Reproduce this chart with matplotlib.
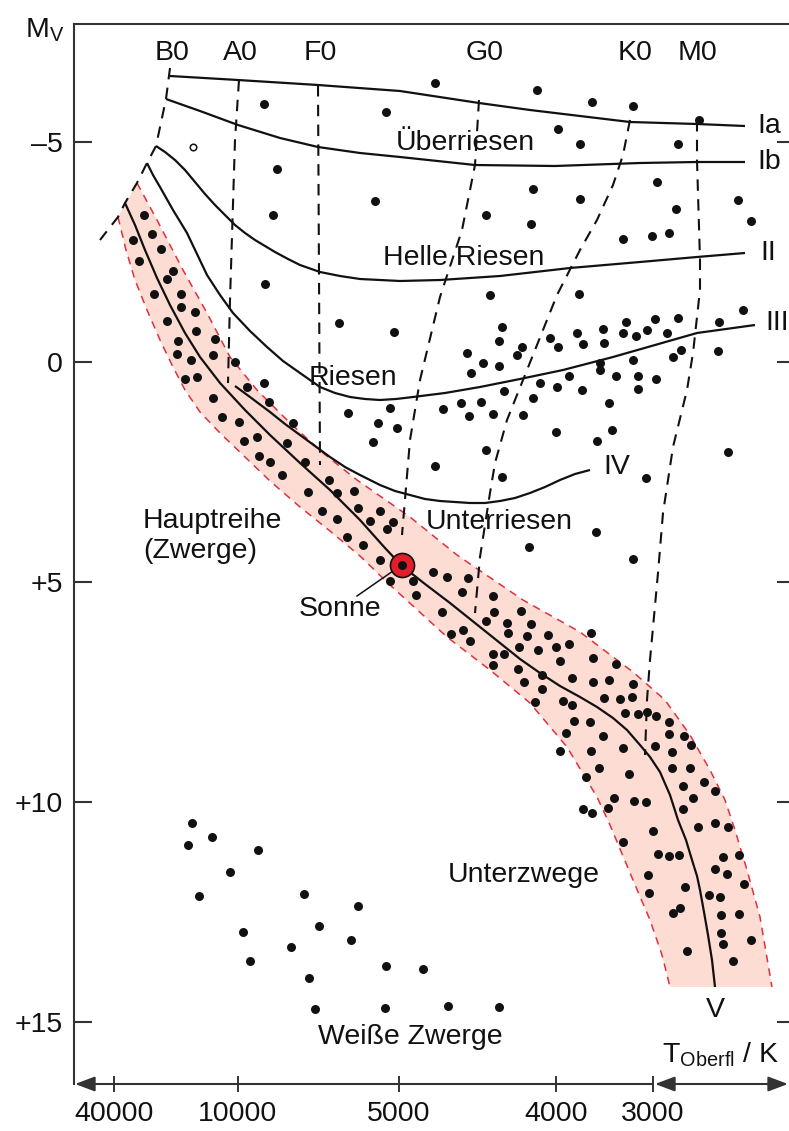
import numpy as np
import matplotlib
matplotlib.use('Agg')
import matplotlib.pyplot as plt

plt.rcParams['font.family'] = ['Liberation Sans', 'DejaVu Sans']
plt.rcParams['mathtext.fontset'] = 'custom'
plt.rcParams['mathtext.rm'] = 'Liberation Sans'
plt.rcParams['mathtext.it'] = 'Liberation Sans'

# x = position along the temperature / spectral axis (chart units),
# y = brightness read in chart rows, converted to M_V by mv()
def mv(rows):
    return (np.asarray(rows, dtype=float) - 362) / 44.0

mag_ticks = [-5, 0, 5, 10, 15]
mag_labels = ['–5', '0', '+5', '+10', '+15']
temp_pos = [114, 238, 399, 556, 653]
temp_labels = ['40000', '10000', '5000', '4000', '3000']
spec_pos = [172, 240, 320, 485, 635, 698]
spec_labels = ['B0', 'A0', 'F0', 'G0', 'K0', 'M0']

# giants / supergiants / subgiants
giant_x = [264, 386, 277, 375, 273, 265,
           435, 537, 592, 633, 699, 558, 580, 678, 533, 580, 657, 676, 738, 751,
           486, 531, 623, 652, 669, 490, 579,
           339, 394, 235, 247, 264, 269, 293, 348, 390, 378, 373, 397,
           502, 499, 467, 483, 499, 471, 522, 517, 550, 558, 577, 583, 603, 604,
           626, 623, 636, 647, 655, 667, 678, 719, 743, 600, 600, 633, 616, 638,
           656, 638, 673, 681, 718, 569, 540, 557, 582, 504, 533, 609, 443, 461,
           481, 469, 493, 523, 556, 612, 597, 486, 435, 502, 646, 728, 596, 529, 633]
giant_y = [104, 112, 169, 201, 215, 284,
           83, 90, 102, 106, 120, 129, 144, 144, 189, 199, 182, 209, 200, 221,
           215, 224, 239, 236, 233, 295, 294,
           323, 332, 362, 387, 383, 402, 423, 413, 408, 423, 442, 428,
           327, 341, 353, 363, 366, 373, 347, 355, 338, 347, 333, 344, 329, 343,
           322, 333, 336, 330, 319, 333, 318, 322, 310, 363, 370, 360, 376, 376,
           379, 389, 357, 350, 351, 376, 383, 387, 390, 391, 398, 403, 409, 403,
           402, 416, 414, 415, 432, 430, 441, 450, 466, 477, 478, 452, 532, 547, 559]

# main sequence stars
ms_x = [144, 152, 133, 161, 139, 173, 167, 154, 181, 181, 195, 167, 196, 215, 178,
        177, 213, 191, 185, 197, 213, 222, 239, 257, 244, 287, 259, 270, 305, 282,
        329, 354, 337, 308, 358, 380, 322, 337, 370, 393, 387, 347, 363, 380,
        390, 413, 433, 447, 468, 416, 462, 493, 442, 494, 521, 486, 507, 531, 451,
        463, 470, 508, 527, 548, 591, 493, 504, 519, 538, 556, 569, 493, 560, 593,
        616, 518, 542, 524, 542, 572, 593, 609, 633, 535, 563, 572, 604, 620, 632,
        625, 638, 647, 656, 669, 574, 590, 566, 603, 669, 684, 691, 560, 591, 623,
        655, 672, 599, 629, 672, 690, 586, 683, 704, 715, 693, 614, 634, 646, 608,
        583, 592, 683, 698, 715, 728, 653, 623, 658, 669, 679, 723, 739,
        648, 649, 685, 715, 727, 744, 709, 720, 673, 680, 721, 739, 721, 723, 751,
        687, 733]
ms_y = [215, 234, 240, 249, 261, 271, 279, 294, 294, 307, 312, 321, 331, 339, 341,
        354, 355, 360, 379, 377, 398, 417, 422, 437, 441, 443, 456, 462, 462, 475,
        480, 491, 493, 492, 508, 511, 511, 519, 521, 522, 529, 537, 545, 560,
        581, 581, 572, 577, 578, 595, 592, 596, 612, 612, 611, 621, 623, 624, 634,
        630, 641, 633, 636, 635, 633, 654, 654, 647, 650, 647, 644, 665, 661, 658,
        664, 669, 675, 682, 689, 678, 682, 680, 684, 702, 701, 705, 698, 699, 697,
        713, 714, 712, 716, 722, 721, 722, 733, 736, 734, 736, 745, 751, 751, 748,
        746, 752, 768, 774, 768, 768, 777, 786, 782, 791, 798, 798, 801, 802, 808,
        809, 813, 809, 827, 823, 827, 831, 842, 854, 856, 855, 857, 855,
        875, 893, 887, 869, 874, 884, 895, 897, 913, 908, 915, 914, 933, 944, 940,
        951, 961]

# white dwarfs
wd_x = [192, 188, 212, 258, 230, 199, 304, 358, 243, 319, 351, 291, 250, 386, 423,
        309, 315, 385, 448, 499]
wd_y = [823, 845, 837, 850, 872, 896, 894, 906, 932, 926, 940, 947, 961, 966, 969,
        978, 1009, 1008, 1006, 1007]

sun_x, sun_y = 402, 565
open_x, open_y = 193, 147

# luminosity classes
ia_x = [170, 238, 318, 400, 479, 530, 580, 630, 697, 745]
ia_y = [76, 80, 85, 91, 103, 110, 116, 122, 124, 126]
ib_x = [166, 200, 238, 280, 318, 360, 400, 475, 555, 640, 697, 745]
ib_y = [99, 111, 125, 138, 147, 153, 157, 165, 166, 163, 162, 162]
ii_x = [156, 165, 175, 185, 195, 205, 215, 225, 235, 245, 255, 265, 275, 288, 300,
        320, 340, 360, 380, 400, 440, 500, 570, 640, 697, 745]
ii_y = [146, 152, 160, 170, 182, 194, 205, 215, 225, 233, 240, 246, 252, 259, 265,
        272, 276, 279, 280, 281, 280, 276, 268, 262, 257, 253]
iii_x = [147, 153, 160, 173, 187, 197, 207, 220, 233, 250, 267, 283, 300, 320, 335,
         350, 365, 380, 396, 413, 445, 480, 520, 563, 613, 655, 697, 755]
iii_y = [163, 175, 187, 210, 233, 254, 275, 295, 313, 331, 347, 361, 373, 387, 393,
         397, 399, 400, 399, 397, 393, 387, 379, 370, 357, 345, 333, 325]
iv_x = [235, 250, 270, 285, 300, 315, 330, 345, 360, 380, 395, 410, 425, 440, 455,
        470, 485, 500, 515, 530, 545, 560, 575, 590]
iv_y = [386, 397, 412, 424, 435, 446, 457, 467, 475, 485, 491, 495, 499, 501, 502,
        503, 503, 501, 498, 493, 487, 480, 474, 470]
v_x = [125, 135, 145, 157, 170, 185, 200, 220, 245, 270, 300, 330, 360, 385, 402,
       425, 450, 475, 500, 520, 540, 560, 580, 597, 613, 627, 640, 650, 660, 670, 678,
       686, 692, 697, 700, 704, 708, 712, 715]
v_y = [203, 225, 250, 278, 305, 333, 357, 383, 410, 435, 463, 490, 520, 548, 566,
       584, 603, 623, 643, 659, 673, 686, 697, 707, 718, 730, 745, 757, 772, 795, 820,
       840, 860, 876, 890, 912, 935, 960, 987]

# main sequence band edges
band_up_x = [137, 157, 183, 207, 230, 257, 290, 323, 357, 390, 410, 457, 523, 580,
             633, 665, 690, 710, 725, 735, 747, 760, 772]
band_up_y = [183, 220, 270, 313, 357, 390, 423, 453, 480, 503, 517, 555, 600, 632,
             672, 700, 735, 770, 800, 830, 870, 917, 987]
band_lo_x = [118, 126, 135, 147, 160, 172, 185, 200, 220, 245, 270, 300, 330, 360,
             390, 447, 490, 530, 567, 597, 610, 633, 650, 662, 670]
band_lo_y = [217, 250, 280, 310, 340, 365, 390, 412, 433, 457, 481, 507, 531, 556,
             585, 637, 670, 703, 747, 797, 825, 880, 920, 955, 987]

# spectral type boundaries
b0_x = [170, 166, 156, 147, 137, 125, 118, 100]
b0_y = [68, 99, 146, 163, 183, 203, 217, 240]
a0_x = [239, 235, 230, 228]
a0_y = [80, 140, 300, 383]
f0_x = [318, 320]
f0_y = [85, 465]
g0_x = [479, 475, 462, 440, 420, 410, 402]
g0_y = [100, 165, 230, 297, 380, 440, 535]
k0_x = [630, 623, 613, 597, 580, 557, 547, 527, 507, 495, 490, 480, 475]
k0_y = [120, 155, 185, 220, 250, 295, 320, 370, 420, 463, 493, 557, 613]
m0_x = [697, 697, 700, 700, 693, 687, 673, 663, 658, 650, 647, 645]
m0_y = [120, 160, 260, 290, 353, 390, 447, 513, 573, 660, 700, 755]

ink = '#111111'
axc = '#333333'
fs = 20.5

fig = plt.figure(figsize=(7.89, 11.31), dpi=100)
ax = fig.add_axes([74 / 789, 47 / 1131, 715 / 789, 1060 / 1131])
ax.set_xlim(74, 789)
ax.set_ylim(mv(1084), mv(24))

# band
bx = band_up_x + band_lo_x[::-1]
by = list(mv(band_up_y)) + list(mv(band_lo_y[::-1]))
ax.fill(bx, by, color='#fcdcd3', lw=0, zorder=1)
for ex, ey in [(band_up_x, band_up_y), (band_lo_x, band_lo_y)]:
    ax.plot(ex, mv(ey), color='#e0303f', lw=1.1, dashes=(5, 4), zorder=2)

# spectral type dashed lines
for sx, sy in [(b0_x, b0_y), (a0_x, a0_y), (f0_x, f0_y), (g0_x, g0_y),
               (k0_x, k0_y), (m0_x, m0_y)]:
    ax.plot(sx, mv(sy), color=ink, lw=1.5, dashes=(5.5, 4), zorder=3)

# luminosity class curves
for cx, cy in [(ia_x, ia_y), (ib_x, ib_y), (ii_x, ii_y), (iii_x, iii_y),
               (iv_x, iv_y), (v_x, v_y)]:
    ax.plot(cx, mv(cy), color=ink, lw=1.6, solid_capstyle='butt',
            solid_joinstyle='round', zorder=3)

# stars
ax.scatter(giant_x, mv(giant_y), s=42, color=ink, lw=0, zorder=4)
ax.scatter(ms_x, mv(ms_y), s=42, color=ink, lw=0, zorder=4)
ax.scatter(wd_x, mv(wd_y), s=42, color=ink, lw=0, zorder=4)
ax.scatter([open_x], mv([open_y]), s=22, facecolor='white', edgecolor=ink, lw=1.1, zorder=4)

# Sonne
ax.plot([357, 393], mv([596, 571]), color=ink, lw=1.1, zorder=4)
ax.scatter([sun_x], mv([sun_y]), s=300, color='#e31e2a', edgecolor=ink, lw=1.2, zorder=5)
ax.scatter([sun_x], mv([sun_y]), s=42, color=ink, lw=0, zorder=6)

# axes styling
for side in ['right', 'bottom']:
    ax.spines[side].set_visible(False)
for side in ['left', 'top']:
    ax.spines[side].set_color(axc)
    ax.spines[side].set_linewidth(1.5)

ax.set_yticks(mag_ticks, labels=mag_labels)
ax.tick_params(axis='y', direction='in', length=13, width=1.5, color=axc,
               pad=8, labelsize=fs, labelcolor=ink)
ax.set_xticks(temp_pos, labels=temp_labels)
ax.tick_params(axis='x', direction='inout', length=11, width=1.4, color=axc,
               pad=7, labelsize=fs, labelcolor=ink)

sec = ax.secondary_yaxis('right')
sec.set_yticks(mag_ticks, labels=[''] * len(mag_ticks))
sec.tick_params(direction='in', length=9, width=1.5, color=axc)
sec.spines['right'].set_visible(False)

# temperature axis with arrows
arr = dict(color=axc, lw=1.5, shrinkA=0, shrinkB=0, mutation_scale=15)
ax.annotate('', xy=(75, 0), xytext=(653, 0), xycoords=('data', 'axes fraction'),
            textcoords=('data', 'axes fraction'), annotation_clip=False,
            arrowprops=dict(arrowstyle='-|>,head_length=0.8,head_width=0.3', **arr))
ax.annotate('', xy=(788, 0), xytext=(655, 0), xycoords=('data', 'axes fraction'),
            textcoords=('data', 'axes fraction'), annotation_clip=False,
            arrowprops=dict(arrowstyle='<|-|>,head_length=0.8,head_width=0.3', **arr))

# spectral type labels
for px, lab in zip(spec_pos, spec_labels):
    ax.text(px, mv(53), lab, ha='center', va='center', fontsize=fs, color=ink)

# class labels
for lx, ly, lab in [(757, 126, 'Ia'), (757, 162, 'Ib'), (760, 253, 'II'),
                    (765, 323, 'III'), (603, 467, 'IV')]:
    ax.text(lx, mv(ly), lab, ha='left', va='center', fontsize=fs, color=ink)
ax.text(715, mv(1010), 'V', ha='center', va='center', fontsize=fs, color=ink)

# region labels
for lx, ly, lab in [(465, 143, 'Überriesen'), (464, 258, 'Helle Riesen'),
                    (353, 378, 'Riesen'), (499, 522, 'Unterriesen'),
                    (340, 609, 'Sonne'), (524, 875, 'Unterzwege'),
                    (410, 1037, 'Weiße Zwerge')]:
    ax.text(lx, mv(ly), lab, ha='center', va='center', fontsize=fs, color=ink)
ax.text(143, mv(536), 'Hauptreihe\n(Zwerge)', ha='left', va='center',
        fontsize=fs, color=ink, linespacing=1.15)

ax.text(662, mv(1055), 'T$_{\\mathrm{Oberfl}}$ / K', ha='left', va='center',
        fontsize=fs, color=ink)
fig.text(25 / 789, 1 - 30 / 1131, 'M$_{\\mathrm{V}}$', ha='left', va='center',
         fontsize=fs, color=ink)

fig.savefig('out.png', dpi=100)
